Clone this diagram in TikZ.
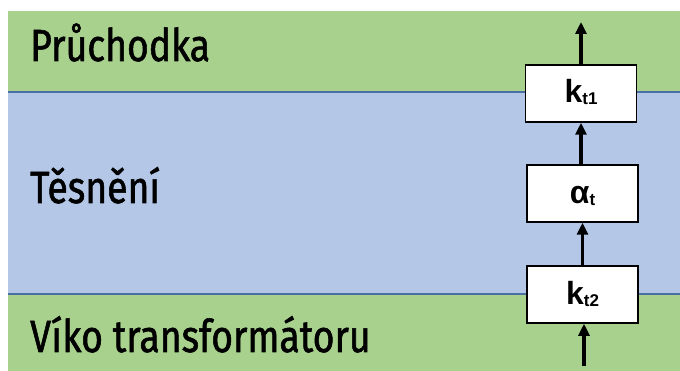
\documentclass[tikz,border=0pt]{standalone}
\usepackage{fontspec}
\setmainfont{Liberation Sans}
\newfontfamily\layerfont[FakeStretch=0.83, FakeBold=1.2]{Fira Sans}
\usetikzlibrary{arrows.meta}
\definecolor{layergreen}{HTML}{A9D18E}
\definecolor{layerblue}{HTML}{B4C7E7}
\definecolor{layeredge}{HTML}{4A6FA5}
\tikzset{
  layerlabel/.style={anchor=base west, inner sep=0pt, font=\layerfont\fontsize{45}{45}\selectfont},
  coefbox/.style={draw=black, line width=1.5pt, fill=white, minimum width=111pt, minimum height=57pt, inner sep=0pt},
  coeftext/.style={anchor=base, inner sep=0pt, font=\bfseries\fontsize{32}{32}\selectfont},
  flow/.style={line width=3.2pt, -{Triangle[length=12pt,width=11pt]}}
}
\newcommand{\coefsub}[1]{\raisebox{-1.5pt}{\fontsize{17}{17}\selectfont #1}}
\begin{document}
\begin{tikzpicture}[x=1pt, y=-1pt]
  \useasboundingbox (0,0) rectangle (680,371);
  % layers
  \fill[layergreen] (8,11) rectangle (680,92);
  \fill[layerblue] (8,92) rectangle (680,294);
  \fill[layergreen] (8,294) rectangle (680,371);
  \draw[layeredge, line width=1.2pt] (8,92) -- (680,92);
  \draw[layeredge, line width=1.2pt] (8,294) -- (680,294);
  % layer names
  \node[layerlabel] (lp) at (30,61) {Průchodka};
  \node[layerlabel] (lt) at (30,203) {Těsnění};
  \node[layerlabel] (lv) at (30,352) {Víko transformátoru};
  % coefficient boxes
  \node[coefbox] (k1) at (581,93.5) {};
  \node[coefbox] (al) at (582.5,193.5) {};
  \node[coefbox] (k2) at (582.5,294.5) {};
  \node[coeftext] (k1t) at (581,103) {k\coefsub{t1}};
  \node[coeftext] (alt) at (582.5,204) {α\coefsub{t}};
  \node[coeftext] (k2t) at (582.5,305) {k\coefsub{t2}};
  % heat flow
  \coordinate (top) at (581,22);
  \coordinate (bot) at (584,366);
  \draw[flow] (k1.north) -- (top);
  \draw[flow] (al.north -| k1.south) -- (k1.south);
  \draw[flow] (k2.north) -- (al.south);
  \draw[flow] (bot) -- (bot |- k2.south);
\end{tikzpicture}
\end{document}
